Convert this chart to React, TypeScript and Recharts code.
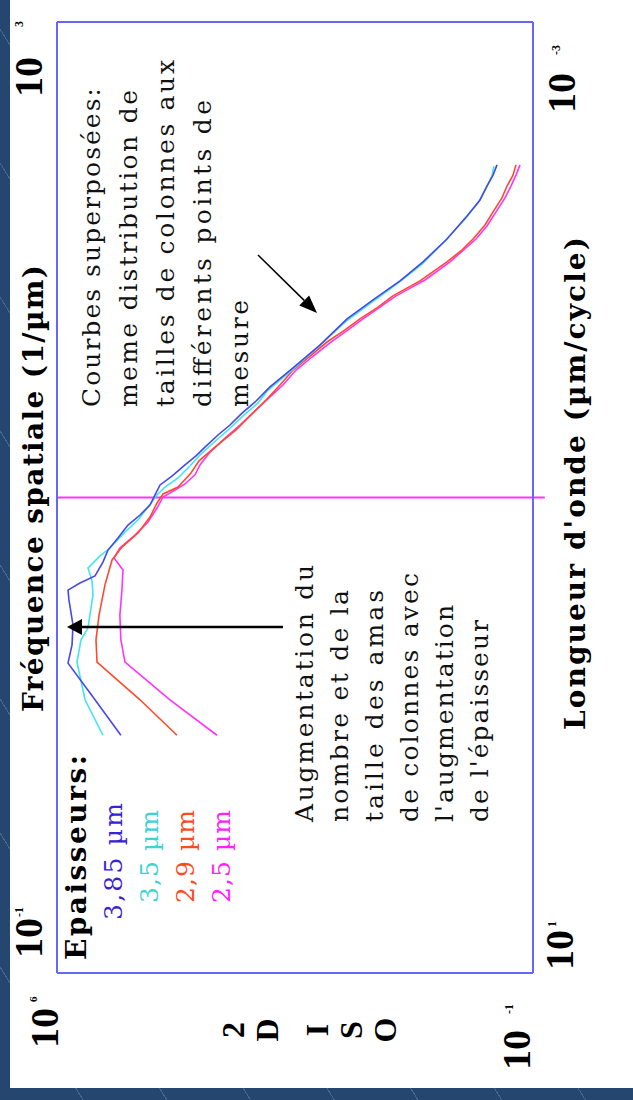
import React from 'react';
import { LineChart, Line, XAxis, YAxis, ReferenceLine } from 'recharts';

// ---------- data (frequency in 1/µm, PSD values) ----------
const freqBlue = [1.0, 1.41, 2.01, 2.40, 2.91, 3.71, 4.08, 4.37, 4.68, 5.35, 6.01, 6.76, 7.66, 8.44, 9.30, 10.25, 11.29, 12.30, 13.71, 14.96, 16.29, 18.32, 20.18, 22.65, 25.23, 29.17, 35.08, 43.75, 56.36, 67.75, 81.47, 97.95, 122.2, 152.8, 178.2, 204.2, 227.0, 250.6];
const psdBlue = [1.15e5, 2.76e5, 6.89e5, 6.01e5, 5.82e5, 6.67e5, 6.89e5, 4.59e5, 2.76e5, 2.11e5, 1.78e5, 1.27e5, 9.04e4, 6.01e4, 4.29e4, 3.62e4, 3.05e4, 2.04e4, 1.31e4, 9.04e3, 6.67e3, 4.29e3, 2.86e3, 1.90e3, 1.22e3, 738, 338, 136, 54.3, 22.5, 9.03, 4.15, 1.84, 0.935, 0.601, 0.475, 0.387, 0.338];

const freqCyan = [1.0, 1.41, 2.03, 2.52, 2.83, 3.89, 4.45, 5.05, 5.68, 6.13, 7.16, 8.04, 9.12, 10.25, 11.07, 12.08, 13.56, 15.10, 16.79, 19.23, 22.44, 24.95, 28.31, 34.36, 42.95, 54.70, 66.37, 79.80, 95.94, 119.9, 148.3, 173.4, 200.4, 225.0, 247.7];
const psdCyan = [2.11e5, 3.87e5, 5.08e5, 4.44e5, 3.50e5, 2.96e5, 3.05e5, 3.50e5, 2.33e5, 1.66e5, 1.0e5, 6.44e4, 4.59e4, 3.38e4, 2.58e4, 1.66e4, 1.11e4, 7.89e3, 5.26e3, 3.05e3, 1.72e3, 1.11e3, 789, 350, 145, 58.2, 23.3, 9.67, 4.29, 1.97, 1.0, 0.644, 0.491, 0.401, 0.375];

const freqRed = [1.0, 1.41, 2.03, 2.52, 3.20, 4.29, 5.46, 6.19, 7.09, 8.28, 9.48, 10.35, 11.07, 12.68, 14.26, 16.29, 19.23, 23.33, 25.94, 29.72, 34.36, 39.36, 45.08, 50.70, 56.36, 63.24, 70.47, 81.47, 97.95, 109.9, 122.2, 140.0, 158.9, 182.0, 204.2, 227.0, 250.6];
const psdRed = [1.72e4, 6.01e4, 2.58e5, 2.67e5, 2.41e5, 1.97e5, 1.55e5, 1.11e5, 6.44e4, 4.29e4, 3.38e4, 2.76e4, 1.66e4, 1.07e4, 8.16e3, 4.75e3, 2.33e3, 1.19e3, 816, 526, 338, 190, 107, 58.2, 35.0, 19.0, 11.5, 4.59, 1.84, 1.11, 0.762, 0.508, 0.387, 0.286, 0.241, 0.197, 0.178];

const freqMagenta = [1.0, 1.41, 2.03, 2.52, 3.20, 4.08, 4.95, 5.57, 6.13, 6.95, 7.89, 9.03, 10.05, 10.76, 11.40, 12.45, 13.71, 15.52, 17.78, 20.18, 23.77, 26.48, 29.72, 34.36, 38.99, 44.67, 50.70, 56.36, 63.24, 70.47, 76.74, 82.22, 97.95, 122.2, 138.7, 158.9, 182.0, 204.2, 227.0, 250.6];
const psdMagenta = [4.44e3, 2.18e4, 1.0e5, 1.15e5, 1.19e5, 1.11e5, 1.07e5, 1.45e5, 1.19e5, 7.13e4, 4.59e4, 3.38e4, 2.76e4, 1.84e4, 1.31e4, 9.35e3, 7.89e3, 5.62e3, 3.38e3, 2.04e3, 1.11e3, 738, 475, 305, 178, 96.7, 52.6, 31.6, 17.8, 10.3, 6.01, 3.87, 1.66, 0.689, 0.475, 0.350, 0.258, 0.211, 0.178, 0.155];

const seriesNames = ['3,85 µm', '3,5 µm', '2,9 µm', '2,5 µm'];

// axes
const freqDomain = [0.1, 1000];
const freqTicks = [0.1, 1000];
const freqTickExps = ['-1', '3'];
const waveDomain = [0.001, 10];
const waveTicks = [10, 0.001];
const waveTickExps = ['1', '-3'];
const psdDomain = [0.1, 1e6];
const psdTicks = [1e6, 0.1];
const psdTickExps = ['6', '-1'];

// annotations (data coordinates)
const markerFreq = 10;
const arrowUpper = [{ x: 104.7, y: 1107 }, { x: 59.7, y: 150 }];
const arrowLower = [{ x: 2.853, y: 475 }, { x: 2.853, y: 7.13e5 }];

// ---------- styling ----------
const W = 1100;
const H = 633;
const LEFT_W = 127;
const RIGHT_W = 22;
const TOP_H = 57;
const BOTTOM_H = 100;
const BOX = '#6666ff';
const TXT = "'DejaVu Serif', 'Liberation Serif', serif";
const SERIF = "'Liberation Serif', 'DejaVu Serif', serif";
const COLORS = { blue: '#4848e6', cyan: '#3fe6ec', red: '#ff4a2a', magenta: '#ff33ff' };
const LEGEND_COLORS = ['#3a22d4', '#3ed2d6', '#ff4a1c', '#ff22ff'];

const build = (fs: number[], ps: number[]) => fs.map((f, i) => ({ f, psd: ps[i] }));
const dataBlue = build(freqBlue, psdBlue);
const dataCyan = build(freqCyan, psdCyan);
const dataRed = build(freqRed, psdRed);
const dataMagenta = build(freqMagenta, psdMagenta);
const waveAxisData = waveTicks.map((wavelength) => ({ wavelength }));

const Pow = ({ x, y, exp, gap, supDy, supSize }: any) => (
  <text x={x} y={y} fontFamily={SERIF} fontWeight="bold" fontSize={40} fill="#000">
    10
    <tspan dx={gap} dy={supDy} fontSize={supSize}>{exp}</tspan>
  </text>
);

const TopTick = (props: any) => {
  const { payload } = props;
  const x0 = payload.coordinate;
  const i = freqTicks.indexOf(payload.value);
  if (i === 0) return <Pow x={x0 + 15} y={42} exp={freqTickExps[0]} gap={1} supDy={-19} supSize={12} />;
  return <Pow x={x0 - 75} y={42} exp={freqTickExps[1]} gap={30} supDy={-19} supSize={12} />;
};

const BottomTick = (props: any) => {
  const { payload } = props;
  const x0 = payload.coordinate;
  const i = waveTicks.indexOf(payload.value);
  if (i === 0) return <Pow x={x0 + 3} y={573} exp={waveTickExps[0]} gap={3} supDy={-17} supSize={12} />;
  return <Pow x={x0 - 91} y={575} exp={waveTickExps[1]} gap={18} supDy={-15} supSize={12} />;
};

const LeftTick = (props: any) => {
  const { payload } = props;
  const y0 = payload.coordinate;
  const i = psdTicks.indexOf(payload.value);
  if (i === 0) return <Pow x={LEFT_W - 75} y={y0 + 1} exp={psdTickExps[0]} gap={6} supDy={-21} supSize={11} />;
  return <Pow x={LEFT_W - 97} y={y0 - 3} exp={psdTickExps[1]} gap={16} supDy={-17} supSize={12} />;
};

const arrowShape = (hl: number, hw: number, sw: number) => (props: any) => {
  const { x1, y1, x2, y2 } = props;
  const dx = x2 - x1;
  const dy = y2 - y1;
  const len = Math.hypot(dx, dy) || 1;
  const ux = dx / len;
  const uy = dy / len;
  const bx = x2 - ux * hl;
  const by = y2 - uy * hl;
  const pts = `${x2},${y2} ${bx - uy * hw},${by + ux * hw} ${bx + uy * hw},${by - ux * hw}`;
  return (
    <g>
      <line x1={x1} y1={y1} x2={bx} y2={by} stroke="#000" strokeWidth={sw} />
      <polygon points={pts} fill="#000" />
    </g>
  );
};

const T = ({ x, y, len, children, size = 25, bold = false, fill = '#111', family = TXT }: any) => (
  <text
    x={x}
    y={y}
    fontFamily={family}
    fontSize={size}
    fontWeight={bold ? 'bold' : 'normal'}
    fill={fill}
    textLength={len}
    lengthAdjust="spacing"
  >
    {children}
  </text>
);

const Annotations = () => (
  <g>
    <T x={388} y={43} len={447} size={28} bold fill="#000">Fréquence spatiale (1/µm)</T>
    <T x={370} y={585} len={493} size={28} bold fill="#000">Longueur d'onde (µm/cycle)</T>

    <T x={140} y={86} len={205} size={28} bold fill="#000">Epaisseurs:</T>
    <T x={180} y={122} len={117} size={25} fill={LEGEND_COLORS[0]}>{seriesNames[0]}</T>
    <T x={197} y={158} len={93} size={25} fill={LEGEND_COLORS[1]}>{seriesNames[1]}</T>
    <T x={197} y={194} len={93} size={25} fill={LEGEND_COLORS[2]}>{seriesNames[2]}</T>
    <T x={197} y={230} len={93} size={25} fill={LEGEND_COLORS[3]}>{seriesNames[3]}</T>

    <T x={693} y={100} len={319}>Courbes superposées:</T>
    <T x={693} y={137} len={317}>meme distribution de</T>
    <T x={693} y={174} len={347}>tailles de colonnes aux</T>
    <T x={693} y={211} len={307}>différents points  de</T>
    <T x={693} y={248} len={107}>mesure</T>

    <T x={278} y={313} len={257}>Augmentation du</T>
    <T x={278} y={348} len={232}>nombre et de la</T>
    <T x={278} y={383} len={232}>taille  des amas</T>
    <T x={278} y={418} len={249}>de colonnes avec</T>
    <T x={278} y={453} len={217}>l'augmentation</T>
    <T x={278} y={488} len={202}>de l'épaisseur</T>

    <g fontFamily={SERIF} fontWeight="bold" fontSize={32} fill="#000" textAnchor="middle">
      <text x={70} y={244}>2</text>
      <text x={70} y={278}>D</text>
      <text x={70} y={328}>I</text>
      <text x={70} y={362}>S</text>
      <text x={70} y={396}>O</text>
    </g>
  </g>
);

export default function App() {
  return (
    <div
      style={{
        position: 'absolute',
        left: 0,
        top: 0,
        width: 633,
        height: 1100,
        overflow: 'hidden',
        background:
          'repeating-linear-gradient(58deg, #25476f 0px, #25476f 70px, #46698f 70px, #46698f 71px)',
      }}
    >
      <div
        style={{
          position: 'absolute',
          left: 0,
          top: 0,
          width: W,
          height: H,
          transformOrigin: '0 0',
          transform: `translateY(${W}px) rotate(-90deg)`,
        }}
      >
        <div style={{ position: 'absolute', left: 12, top: 10, width: W - 12, height: H - 10, background: '#fff' }} />
        <div style={{ position: 'absolute', left: 0, top: 0 }}>
          <LineChart width={W} height={H} data={waveAxisData} margin={{ top: 0, right: 0, bottom: 0, left: 0 }}>
            <XAxis
              xAxisId="freq"
              dataKey="f"
              type="number"
              scale="log"
              domain={freqDomain}
              ticks={freqTicks}
              interval={0}
              allowDataOverflow
              orientation="top"
              height={TOP_H}
              axisLine={{ stroke: BOX, strokeWidth: 2 }}
              tickLine={false}
              tick={<TopTick />}
            />
            <XAxis
              xAxisId="wave"
              dataKey="wavelength"
              type="number"
              scale="log"
              domain={waveDomain}
              ticks={waveTicks}
              interval={0}
              reversed
              allowDataOverflow
              orientation="bottom"
              height={BOTTOM_H}
              axisLine={{ stroke: BOX, strokeWidth: 2 }}
              tickLine={false}
              tick={<BottomTick />}
            />
            <YAxis
              yAxisId="psd"
              type="number"
              scale="log"
              domain={psdDomain}
              ticks={psdTicks}
              interval={0}
              allowDataOverflow
              width={LEFT_W}
              axisLine={{ stroke: BOX, strokeWidth: 2 }}
              tickLine={false}
              tick={<LeftTick />}
            />
            <YAxis
              yAxisId="psdR"
              orientation="right"
              type="number"
              scale="log"
              domain={psdDomain}
              allowDataOverflow
              width={RIGHT_W}
              axisLine={{ stroke: BOX, strokeWidth: 2 }}
              tickLine={false}
              tick={false}
            />
            <ReferenceLine
              xAxisId="freq"
              yAxisId="psd"
              segment={[{ x: markerFreq, y: 1e6 }, { x: markerFreq, y: 0.067 }]}
              ifOverflow="visible"
              stroke="#ff33ff"
              strokeWidth={2}
            />
            <Line xAxisId="freq" yAxisId="psd" data={dataMagenta} dataKey="psd" name={seriesNames[3]} stroke={COLORS.magenta} strokeWidth={1.6} dot={false} isAnimationActive={false} />
            <Line xAxisId="freq" yAxisId="psd" data={dataRed} dataKey="psd" name={seriesNames[2]} stroke={COLORS.red} strokeWidth={1.6} dot={false} isAnimationActive={false} />
            <Line xAxisId="freq" yAxisId="psd" data={dataCyan} dataKey="psd" name={seriesNames[1]} stroke={COLORS.cyan} strokeWidth={1.6} dot={false} isAnimationActive={false} />
            <Line xAxisId="freq" yAxisId="psd" data={dataBlue} dataKey="psd" name={seriesNames[0]} stroke={COLORS.blue} strokeWidth={1.6} dot={false} isAnimationActive={false} />
            <ReferenceLine
              xAxisId="freq"
              yAxisId="psd"
              segment={arrowUpper}
              ifOverflow="visible"
              shape={arrowShape(18, 7, 1.5)}
            />
            <ReferenceLine
              xAxisId="freq"
              yAxisId="psd"
              segment={arrowLower}
              ifOverflow="visible"
              shape={arrowShape(15, 8, 2.5)}
            />
            <Annotations />
          </LineChart>
        </div>
      </div>
    </div>
  );
}
